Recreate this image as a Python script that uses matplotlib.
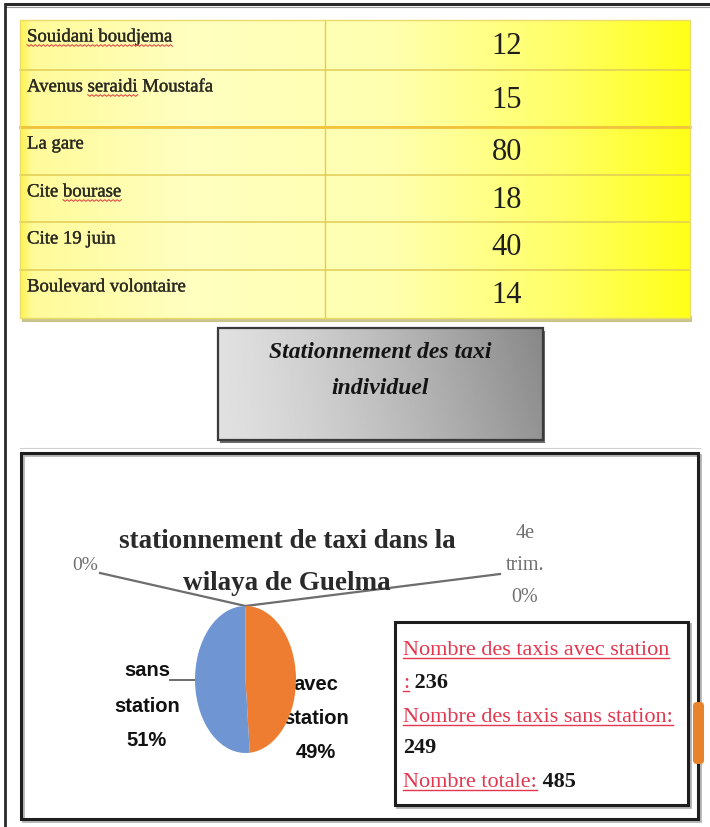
import matplotlib
matplotlib.use("Agg")
import matplotlib.pyplot as plt
import matplotlib.patheffects as pe
import numpy as np
from matplotlib.colors import LinearSegmentedColormap
from matplotlib.patches import Rectangle, FancyBboxPatch

# ---------------------------------------------------------------- data
streets = [
    "Souidani boudjema",
    "Avenus seraidi Moustafa",
    "La gare",
    "Cite bourase",
    "Cite 19 juin",
    "Boulevard volontaire",
]
taxi_counts = [12, 15, 80, 18, 40, 14]
flagged_words = ["Souidani boudjema", "seraidi", "bourase"]

box_title = "Stationnement des taxi\nindividuel"

pie_title = ["stationnement de taxi dans la", "wilaya de Guelma"]
with_station = 236
without_station = 249
pie_names = ["avec\nstation", "sans\nstation", "", "4e\ntrim."]
pie_values = [with_station, without_station, 0, 0]
pie_colors = ["#EE7D31", "#6F95D2", "#A5A5A5", "#FFC000"]

info_lines = [
    ("Nombre des taxis avec station", None),
    (":", " " + str(with_station)),
    ("Nombre des taxis sans station:", None),
    ("", str(without_station)),
    ("Nombre totale:", " " + str(with_station + without_station)),
]

# ---------------------------------------------------------------- page
W, H = 710, 827
fig = plt.figure(figsize=(W / 100, H / 100), dpi=100)
fig.patch.set_facecolor("white")
bg = fig.add_axes([0, 0, 1, 1])
bg.set_xlim(0, W)
bg.set_ylim(H, 0)
bg.axis("off")

SERIF = ["Liberation Serif", "DejaVu Serif"]
SANS = ["Liberation Sans", "DejaVu Sans"]
heavy = [pe.withStroke(linewidth=0.25, foreground="#2a2a22")]

# page frame (top and left edges)
bg.plot([5, W], [4, 4], color="#2a2a2a", lw=2.2, solid_capstyle="butt", zorder=5)
bg.plot([5, W], [6.5, 6.5], color="#9a9a9a", lw=0.8, zorder=5)
bg.plot([5, 5], [4, H], color="#2a2a2a", lw=2.0, zorder=5)

# ---------------------------------------------------------------- table
tx0, tx1 = 20, 690
row_edges = [20, 70, 127, 175, 222, 270, 318]
col_split = 325

# soft shadow under the table
bg.add_patch(Rectangle((tx0 + 2, row_edges[-1] - 2), tx1 - tx0, 6,
                       facecolor="#c9c48e", edgecolor="none", zorder=1))
tbl_cmap = LinearSegmentedColormap.from_list(
    "tbl", [(0.0, "#FFF45A"), (0.015, "#FFFB9A"), (0.25, "#FFFFC0"),
            (0.55, "#FFFFB0"), (0.8, "#FFFF6A"), (1.0, "#FFFF18")])
grad = np.linspace(0, 1, 400)[None, :]
bg.imshow(grad, extent=(tx0, tx1, row_edges[-1], row_edges[0]), cmap=tbl_cmap,
          aspect="auto", interpolation="bilinear", zorder=2)

for y in row_edges[1:-1]:
    bg.plot([tx0, tx1], [y, y], color="#E2CC55", lw=1.1, zorder=3)
bg.plot([tx0, tx1], [row_edges[2], row_edges[2]], color="#F3C23C", lw=2.0, zorder=3)
bg.plot([col_split, col_split], [row_edges[0], row_edges[-1]],
        color="#E2CC55", lw=1.0, zorder=3)
bg.add_patch(Rectangle((tx0, row_edges[0]), tx1 - tx0, row_edges[-1] - row_edges[0],
                       fill=False, edgecolor="#EBDB6A", lw=1.0, zorder=3))

street_texts = []
for i, (name, val) in enumerate(zip(streets, taxi_counts)):
    top, bot = row_edges[i], row_edges[i + 1]
    t = bg.text(27, top + 21.5, name, fontsize=13.5, family=SERIF,
                color="#2a2a22", va="baseline", ha="left", zorder=4,
                path_effects=heavy)
    street_texts.append(t)
    bg.text(507, (top + bot) / 2 + 1.5, str(val), fontsize=22, family=SERIF,
            color="#1e1e1e", va="center", ha="center", zorder=4)

# ---------------------------------------------------------------- grey banner
gx0, gx1, gy0, gy1 = 218, 543, 328, 440
bg.add_patch(Rectangle((gx0 + 2, gy0 + 3), gx1 - gx0, gy1 - gy0,
                       facecolor="#6a6a6a", edgecolor="none", zorder=1))
gx = np.linspace(0, 1, 300)
gy = np.linspace(0, 1, 100)
shade = 0.88 - 0.30 * gx[None, :] ** 1.3 - 0.05 * (1 - gy[:, None]) * gx[None, :]
bg.imshow(shade, extent=(gx0, gx1, gy1, gy0), cmap="gray", vmin=0, vmax=1,
          aspect="auto", interpolation="bilinear", zorder=2)
bg.add_patch(Rectangle((gx0, gy0), gx1 - gx0, gy1 - gy0, fill=False,
                       edgecolor="#3a3a3a", lw=1.6, zorder=3))
for txt, yy in zip(box_title.split("\n"), [353, 388]):
    bg.text((gx0 + gx1) / 2, yy, txt, fontsize=17, family=SERIF,
            weight="bold", style="italic", color="#141414", ha="center",
            va="center", zorder=4)

# thin rule below the banner
bg.plot([20, 700], [448, 448], color="#d0d0d0", lw=0.8, zorder=1)

# ---------------------------------------------------------------- chart frame
cx0, cx1, cy0, cy1 = 21, 698, 453, 819
bg.add_patch(Rectangle((cx0 + 1.5, cy0 + 1.5), cx1 - cx0, cy1 - cy0, fill=False,
                       edgecolor="#b5b5b5", lw=2.0, zorder=2))
bg.add_patch(Rectangle((cx0, cy0), cx1 - cx0, cy1 - cy0, fill=False,
                       edgecolor="#1e1e1e", lw=2.2, zorder=3))

# ---------------------------------------------------------------- pie
px0, px1, py0, py1 = 195, 296, 606, 753
pax = fig.add_axes([px0 / W, 1 - py1 / H, (px1 - px0) / W, (py1 - py0) / H])
wedges, _ = pax.pie(pie_values, colors=pie_colors, startangle=90,
                    counterclock=False, radius=1.0,
                    wedgeprops=dict(linewidth=0))
pax.set_xlim(-1, 1)
pax.set_ylim(-1, 1)
pax.set_aspect("auto")
pax.axis("off")


def to_page(ax, x, y):
    """Map a point from an axes' data space to page pixel space."""
    disp = ax.transData.transform((x, y))
    return bg.transData.inverted().transform(disp)


def wedge_point(w, frac=0.5, r=1.0):
    ang = np.deg2rad(w.theta1 + frac * (w.theta2 - w.theta1))
    return to_page(pax, r * np.cos(ang), r * np.sin(ang))


total = sum(pie_values)
pcts = [round(100 * v / total) for v in pie_values]

LEAD = "#6d6d6d"
# zero-size slices at 12 o'clock
top_pt = wedge_point(wedges[2], 0.0)
bg.plot([100, top_pt[0]], [573, top_pt[1]], color=LEAD, lw=1.6, zorder=2)
bg.plot([top_pt[0], 500], [top_pt[1], 574], color=LEAD, lw=1.6, zorder=2)
bg.text(85, 565, f"{pcts[2]}%", fontsize=14, family=SERIF, color="#707070",
        ha="center", va="center", zorder=4)
for txt, yy in zip(pie_names[3].split("\n") + [f"{pcts[3]}%"], [533, 566, 597]):
    bg.text(525, yy, txt, fontsize=14.5, family=SERIF, color="#707070",
            ha="center", va="center", zorder=4)

# title of the pie chart
for txt, yy in zip(pie_title, [542, 583]):
    bg.text(287, yy, txt, fontsize=19.5, family=SERIF, weight="bold",
            color="#2a2a2a", ha="center", va="center", zorder=4)

# category labels
sans_pt = wedge_point(wedges[1], 0.5)
bg.plot([170, sans_pt[0]], [sans_pt[1] - 3, sans_pt[1] - 3], color=LEAD, lw=1.4, zorder=2)
for txt, yy in zip(pie_names[1].split("\n") + [f"{pcts[1]}%"], [670, 707, 740]):
    bg.text(147, yy, txt, fontsize=14.5, family=SANS, weight="bold",
            color="#111111", ha="center", va="center", zorder=4)
for txt, yy in zip(pie_names[0].split("\n") + [f"{pcts[0]}%"], [685, 718, 752]):
    bg.text(316, yy, txt, fontsize=14.5, family=SANS, weight="bold",
            color="#111111", ha="center", va="center", zorder=4)

# ---------------------------------------------------------------- info box
ix0, ix1, iy0, iy1 = 395, 688, 622, 805
bg.add_patch(Rectangle((ix0 + 1.5, iy0 + 1.5), ix1 - ix0, iy1 - iy0, fill=False,
                       edgecolor="#b0b0b0", lw=2.0, zorder=3))
bg.add_patch(Rectangle((ix0, iy0), ix1 - ix0, iy1 - iy0, facecolor="white",
                       edgecolor="#1e1e1e", lw=2.2, zorder=3))

# orange tab on the right margin
bg.add_patch(FancyBboxPatch((693, 702), 11, 62, boxstyle="round,pad=0,rounding_size=4",
                            facecolor="#E8832C", edgecolor="none", zorder=6))

fig.canvas.draw()
renderer = fig.canvas.get_renderer()


def extent_px(t):
    bb = t.get_window_extent(renderer)
    (x0, y0), (x1, y1) = bg.transData.inverted().transform([[bb.x0, bb.y0], [bb.x1, bb.y1]])
    return x0, x1


RED = "#E2374F"
for (label, number), base in zip(info_lines, [655, 688, 722, 753, 787]):
    x = 403
    if label:
        t = bg.text(x, base, label, fontsize=16, family=SERIF, color=RED,
                    ha="left", va="baseline", zorder=5)
        a, b = extent_px(t)
        bg.plot([a, b], [base + 3, base + 3], color=RED, lw=1.0, zorder=5)
        x = b
    if number:
        bg.text(x, base, number, fontsize=16, family=SERIF,
                weight="bold", color="#161616", ha="left", va="baseline", zorder=5)

# red spell-check marks under flagged words in the table
for t in street_texts:
    s = t.get_text()
    for w in flagged_words:
        k = s.find(w)
        if k < 0:
            continue
        probe = bg.text(t.get_position()[0], t.get_position()[1], s[:k],
                        fontsize=t.get_fontsize(), family=SERIF, va="baseline")
        probe_w = bg.text(t.get_position()[0], t.get_position()[1], s[:k + len(w)],
                          fontsize=t.get_fontsize(), family=SERIF, va="baseline")
        a = extent_px(probe)[1] if k > 0 else t.get_position()[0]
        b = extent_px(probe_w)[1]
        probe.remove()
        probe_w.remove()
        yb = t.get_position()[1] + 4
        xs = np.linspace(a, b, max(int((b - a) / 2), 2))
        bg.plot(xs, yb + 0.8 * np.where(np.arange(len(xs)) % 2 == 0, -1, 1),
                color="#E0504A", lw=0.8, zorder=5)

fig.savefig("out.png", dpi=100, facecolor="white")
